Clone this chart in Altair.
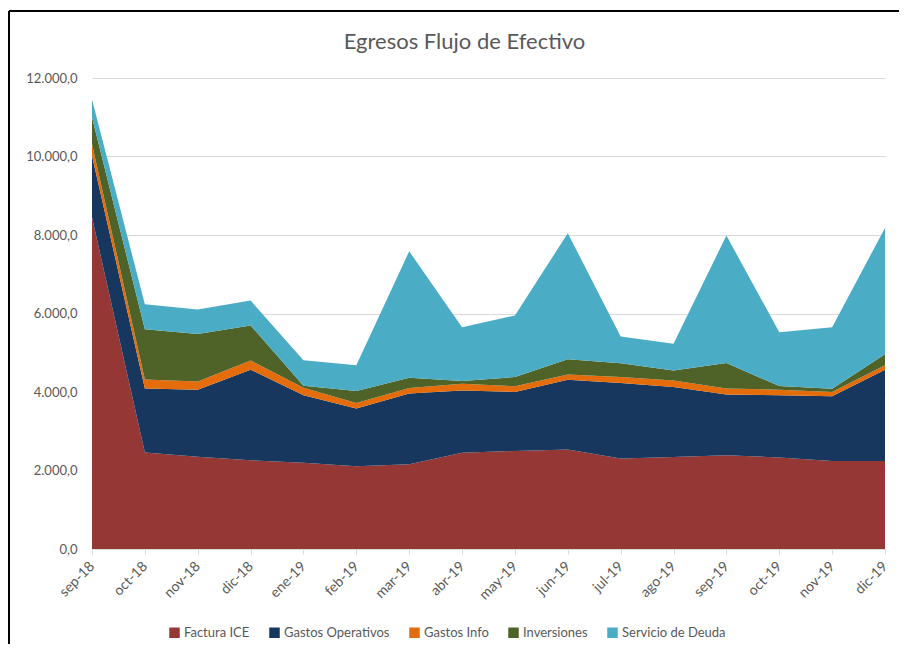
import altair as alt
import pandas as pd

months = ["sep-18", "oct-18", "nov-18", "dic-18", "ene-19", "feb-19", "mar-19", "abr-19",
          "may-19", "jun-19", "jul-19", "ago-19", "sep-19", "oct-19", "nov-19", "dic-19"]
series = ["Factura ICE", "Gastos Operativos", "Gastos Info", "Inversiones", "Servicio de Deuda"]
colors = ["#953735", "#17375e", "#e46c0a", "#4f6228", "#4bacc6"]

factura = [8450, 2460, 2350, 2260, 2200, 2110, 2160, 2450, 2500, 2535, 2305, 2345, 2390, 2330, 2240, 2240]
gastos_op = [1570, 1630, 1710, 2310, 1720, 1470, 1800, 1590, 1500, 1780, 1925, 1780, 1545, 1585, 1650, 2330]
gastos_info = [300, 230, 210, 235, 190, 140, 140, 170, 145, 130, 150, 170, 155, 145, 110, 110]
inversiones = [680, 1280, 1210, 890, 50, 305, 265, 70, 235, 390, 355, 255, 650, 90, 85, 280]
deuda = [450, 635, 620, 635, 650, 655, 3220, 1370, 1570, 3210, 680, 680, 3245, 1375, 1565, 3220]
y_ticks = [0, 2000, 4000, 6000, 8000, 10000, 12000]

values = [factura, gastos_op, gastos_info, inversiones, deuda]
rows = []
for i, (name, vals) in enumerate(zip(series, values)):
    for m, v in zip(months, vals):
        rows.append({"mes": m, "serie": name, "valor": v, "orden": i})
df = pd.DataFrame(rows)

FONT = "Lato"
GREY = "#595959"

area = alt.Chart(df).mark_area(opacity=1).encode(
    x=alt.X("mes:O", sort=months, title=None,
            scale=alt.Scale(type="point", padding=0),
            axis=alt.Axis(labelAngle=-45, labelAlign="right", labelBaseline="middle",
                          labelPadding=10, labelFontSize=14, labelColor=GREY, labelFont=FONT,
                          domainColor="#d9d9d9", tickColor="#d9d9d9", tickSize=5, grid=False)),
    y=alt.Y("valor:Q", stack="zero", title=None,
            scale=alt.Scale(domain=[0, 12000], nice=False),
            axis=alt.Axis(values=y_ticks, domain=False, ticks=False, labelPadding=15,
                          labelFontSize=13, labelColor=GREY, labelFont=FONT,
                          gridColor="#d9d9d9", gridWidth=1,
                          labelExpr="replace(replace(replace(format(datum.value, ',.1f'), ',', '_'), '.', ','), '_', '.')")),
    color=alt.Color("serie:N", sort=series,
                    scale=alt.Scale(domain=series, range=colors),
                    legend=alt.Legend(title=None, orient="none", direction="horizontal",
                                      legendX=76, legendY=548, symbolType="square",
                                      symbolSize=110, symbolStrokeWidth=0, labelFontSize=13,
                                      labelColor=GREY, labelFont=FONT, columnPadding=18,
                                      labelOffset=3)),
    order=alt.Order("orden:Q", sort="ascending"),
)

frame_df = pd.DataFrame({"k": [0]})
top_line = alt.Chart(frame_df).mark_rule(color="#000000", strokeWidth=2).encode(
    x=alt.value(-83), x2=alt.value(815), y=alt.value(-67))
left_line = alt.Chart(frame_df).mark_rule(color="#000000", strokeWidth=2).encode(
    x=alt.value(-83), y=alt.value(-67), y2=alt.value(566))

chart = alt.layer(area, top_line, left_line).properties(
    width=793, height=471,
    title=alt.TitleParams("Egresos Flujo de Efectivo", fontSize=22, font=FONT,
                          fontWeight="normal", color=GREY, anchor="middle", dx=-24, offset=-44),
    autosize=alt.AutoSizeParams(type="none"),
    padding={"left": 84, "top": 70, "right": 14, "bottom": 95},
).configure_view(stroke=None)

chart.save("out.html", embed_options={"renderer": "svg", "actions": False})
